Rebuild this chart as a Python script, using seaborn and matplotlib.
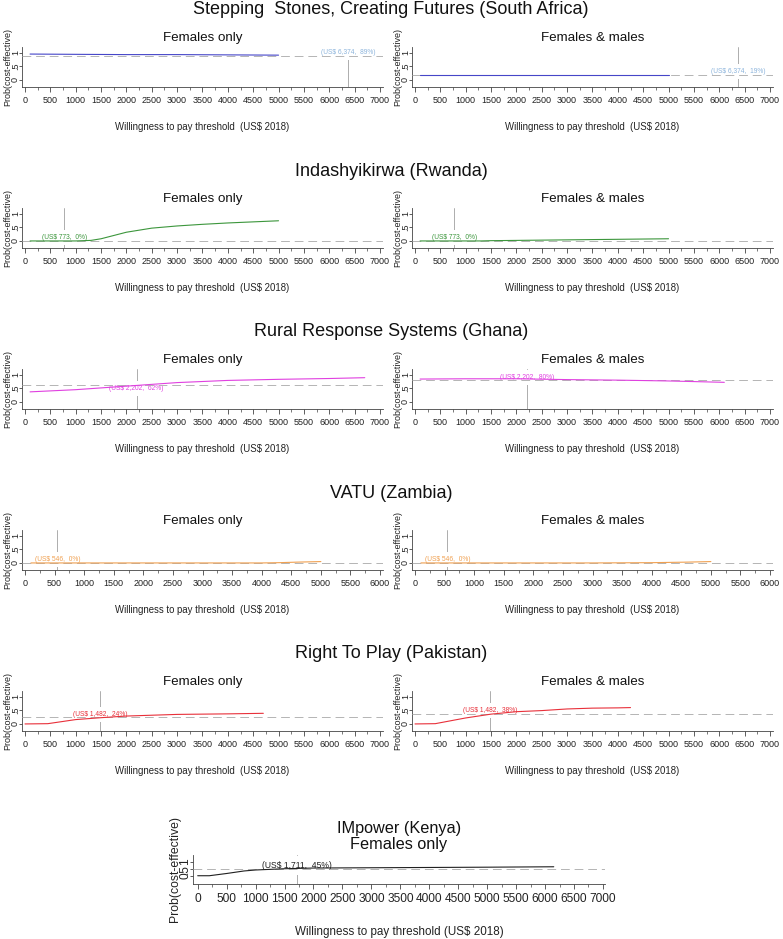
import seaborn as sns
import matplotlib
import matplotlib.pyplot as plt
from matplotlib.ticker import MultipleLocator, FixedLocator, FixedFormatter
import pandas as pd

# programme titles, one row each
programmes = ['Stepping  Stones, Creating Futures (South Africa)',
              'Indashyikirwa (Rwanda)',
              'Rural Response Systems (Ghana)',
              'VATU (Zambia)',
              'Right To Play (Pakistan)']
groups = ['Females only', 'Females & males']

# willingness-to-pay thresholds (US$ 2018)
thresholds = [6374, 773, 2202, 546, 1482]
# probability cost-effective at the threshold, females only / females & males
prob_f = [89, 0, 62, 0, 24]
prob_m = [19, 0, 80, 0, 38]

# CEAC curves
sa_f_x = [100, 1000, 2000, 3000, 4000, 5000]
sa_f_y = [0.95, 0.94, 0.93, 0.93, 0.92, 0.91]
sa_m_x = [100, 1000, 2000, 3000, 4000, 5000]
sa_m_y = [0.17, 0.17, 0.17, 0.17, 0.17, 0.17]

rw_f_x = [100, 500, 1000, 1300, 1500, 2000, 2500, 3000, 3500, 4000, 4500, 5000]
rw_f_y = [0, 0, 0, 0.02, 0.08, 0.32, 0.47, 0.55, 0.61, 0.66, 0.70, 0.74]
rw_m_x = [100, 500, 1000, 1300, 1500, 2000, 2500, 3000, 3500, 4000, 4500, 5000]
rw_m_y = [0, 0, 0, 0, 0.01, 0.02, 0.03, 0.04, 0.05, 0.06, 0.07, 0.08]

gh_f_x = [100, 1000, 2000, 3000, 4000, 5000, 6000, 6700]
gh_f_y = [0.37, 0.45, 0.58, 0.71, 0.79, 0.83, 0.86, 0.89]
gh_m_x = [100, 1000, 2000, 3000, 4000, 5000, 6100]
gh_m_y = [0.84, 0.85, 0.85, 0.82, 0.80, 0.77, 0.72]

vt_f_x = [100, 1000, 2000, 3000, 4000, 4300, 4600, 5000]
vt_f_y = [0, 0, 0, 0, 0, 0.01, 0.03, 0.05]
vt_m_x = [100, 1000, 2000, 3000, 4000, 4300, 4600, 5000]
vt_m_y = [0, 0, 0, 0, 0.01, 0.02, 0.03, 0.05]

pk_f_x = [0, 450, 1000, 1500, 2000, 2500, 3000, 3500, 4000, 4700]
pk_f_y = [0, 0.01, 0.16, 0.23, 0.29, 0.32, 0.35, 0.36, 0.37, 0.39]
pk_m_x = [0, 400, 1000, 1500, 2000, 2500, 3000, 3500, 4000, 4250]
pk_m_y = [0, 0.01, 0.22, 0.36, 0.45, 0.49, 0.55, 0.58, 0.59, 0.60]

# Kenya, females only
ke_title = 'IMpower (Kenya)'
ke_group = 'Females only'
ke_threshold = 1711
ke_prob = 45
ke_x = [0, 200, 500, 800, 1000, 1500, 2000, 3000, 4000, 5000, 6150]
ke_y = [0, 0, 0.16, 0.34, 0.41, 0.50, 0.55, 0.57, 0.59, 0.61, 0.64]

curves_f = [(sa_f_x, sa_f_y), (rw_f_x, rw_f_y), (gh_f_x, gh_f_y), (vt_f_x, vt_f_y), (pk_f_x, pk_f_y)]
curves_m = [(sa_m_x, sa_m_y), (rw_m_x, rw_m_y), (gh_m_x, gh_m_y), (vt_m_x, vt_m_y), (pk_m_x, pk_m_y)]
x_max = [7000, 7000, 7000, 6000, 7000]

line_colors = ['#4646c8', '#3c963c', '#e040e0', '#f0a050', '#e8303a']
label_colors = ['#8cb4dc', '#3c963c', '#e040e0', '#f0a050', '#e8303a']
# height of the value label (data units) for each panel
label_y_f = [1.0, 0.13, 0.48, 0.12, 0.36]
label_y_m = [0.30, 0.13, 0.91, 0.12, 0.48]

sns.set_style('ticks')
plt.rcParams['font.family'] = ['Liberation Sans', 'DejaVu Sans']

W, H = 783, 939
fig = plt.figure(figsize=(W / 100, H / 100), dpi=100)


def px_axes(x0, x1, y0, y1):
    # y0 = top, y1 = bottom in pixels
    return fig.add_axes([x0 / W, 1 - y1 / H, (x1 - x0) / W, (y1 - y0) / H])


def draw_panel(ax, x, y, thr, p, col, lcol, ly, xmax, lims, fs_tick, fs_lab, fs_ann, txt, lab_x):
    ax.axvline(thr, color='#a0a0a0', lw=0.6, zorder=1)
    ax.text(thr, ly, txt, color=lcol, fontsize=fs_ann, ha='center', va='center', zorder=2,
            bbox=dict(boxstyle='square,pad=0.6', fc='white', ec='none'))
    ax.axhline(p / 100, color='#b4b4b4', lw=0.7, ls=(0, (9, 5)), zorder=3)
    df = pd.DataFrame({'wtp': x, 'prob': y})
    sns.lineplot(data=df, x='wtp', y='prob', color=col, lw=0.8, ax=ax, zorder=4)
    ax.set_xlim(lims[2], xmax + lims[3])
    ax.set_ylim(lims[0], lims[1])
    ax.xaxis.set_major_locator(FixedLocator(list(range(0, xmax + 1, 500))))
    ax.xaxis.set_minor_locator(MultipleLocator(250))
    ax.yaxis.set_major_locator(FixedLocator([0, 0.5, 1]))
    ax.yaxis.set_major_formatter(FixedFormatter(['0', '.5', '1']))
    for s in ['top', 'right']:
        ax.spines[s].set_visible(False)
    for s in ['left', 'bottom']:
        ax.spines[s].set_color('#444444')
        ax.spines[s].set_linewidth(0.6)
    ax.tick_params(axis='x', which='major', length=3.5, width=0.6, pad=3, labelsize=fs_tick,
                   colors='#444444', labelcolor='#222222')
    ax.tick_params(axis='x', which='minor', length=2, width=0.5, colors='#444444')
    ax.tick_params(axis='y', which='major', length=2.2, width=0.6, pad=-1, labelsize=fs_tick,
                   colors='#444444', labelcolor='#222222')
    for t in ax.get_yticklabels():
        t.set_rotation(90)
        t.set_va('center')
    ax.set_xlabel('')
    ax.set_ylabel('Prob(cost-effective)', fontsize=fs_lab, color='#222222')
    ax.yaxis.set_label_coords(lab_x, 0.5)


row_step = 161
lefts = [(21.7, 383), (411.7, 773)]
for r in range(5):
    bottom = 87.3 + row_step * r
    top = bottom - 40.6
    fig.text(391 / W, 1 - (10 + row_step * r) / H, programmes[r], fontsize=13, ha='center',
             va='center', color='#111111')
    for c in range(2):
        x0, x1 = lefts[c]
        ax = px_axes(x0, x1, top, bottom)
        if c == 0:
            x, y = curves_f[r]
            p, ly = prob_f[r], label_y_f[r]
        else:
            x, y = curves_m[r]
            p, ly = prob_m[r], label_y_m[r]
        pad_l = -65 if x_max[r] == 7000 else -56
        pad_r = 60 if x_max[r] == 7000 else 50
        txt = '(US$ {:,},  {}%)'.format(thresholds[r], p)
        draw_panel(ax, x, y, thresholds[r], p, line_colors[r], label_colors[r], ly, x_max[r],
                   (-0.27, 1.22, pad_l, pad_r), 6.5, 6.5, 4.8, txt, -0.026)
        fig.text((x0 + x1) / 2 / W, 1 - (38 + row_step * r) / H, groups[c], fontsize=9.6,
                 ha='center', va='center', color='#111111')
        fig.text((x0 + x1) / 2 / W, 1 - (127 + row_step * r) / H,
                 'Willingness to pay threshold  (US$ 2018)', fontsize=6.9, ha='center',
                 va='center', color='#222222')

# Kenya panel
ax = px_axes(193, 605, 855, 884)
draw_panel(ax, ke_x, ke_y, ke_threshold, ke_prob, '#202020', '#202020', 0.73, 7000,
           (-0.59, 1.48, -81, 35), 8.6, 8.8, 6.2, '(US$ {:,},  {}%)'.format(ke_threshold, ke_prob), -0.03)
fig.text(399 / W, 1 - 829 / H, ke_title, fontsize=11.7, ha='center', va='center', color='#111111')
fig.text(399 / W, 1 - 844 / H, ke_group, fontsize=11.7, ha='center', va='center', color='#111111')
fig.text(399 / W, 1 - 932 / H, 'Willingness to pay threshold (US$ 2018)', fontsize=8.4,
         ha='center', va='center', color='#222222')

fig.savefig('out.png', dpi=100, facecolor='white')
